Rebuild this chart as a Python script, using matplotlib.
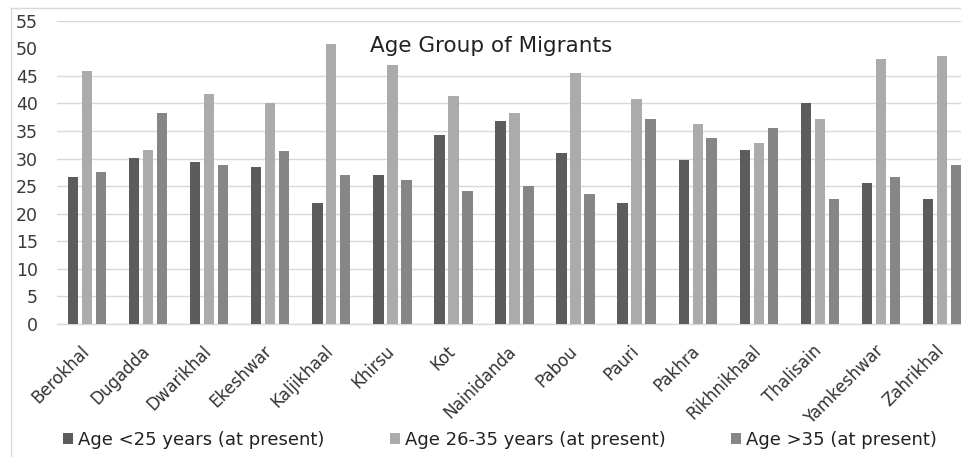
import matplotlib
matplotlib.use("Agg")
import matplotlib.pyplot as plt
import matplotlib.transforms as mtransforms
import numpy as np
from matplotlib.lines import Line2D
from matplotlib.patches import Patch

plt.rcParams['font.family'] = ['DejaVu Sans']

blocks = ["Berokhal", "Dugadda", "Dwarikhal", "Ekeshwar", "Kaljikhaal", "Khirsu",
          "Kot", "Nainidanda", "Pabou", "Pauri", "Pakhra", "Rikhnikhaal",
          "Thalisain", "Yamkeshwar", "Zahrikhal"]
age_under_25 = [26.7, 30.1, 29.4, 28.5, 22.0, 27.0, 34.3, 36.8, 31.0, 22.0, 29.7, 31.5, 40.1, 25.5, 22.6]
age_26_35 = [45.8, 31.6, 41.7, 40.1, 50.8, 47.0, 41.4, 38.3, 45.5, 40.8, 36.2, 32.8, 37.1, 48.0, 48.6]
age_over_35 = [27.6, 38.3, 28.9, 31.3, 27.0, 26.1, 24.2, 25.1, 23.6, 37.1, 33.7, 35.5, 22.6, 26.7, 28.9]
series_names = ["Age <25 years (at present)", "Age 26-35 years (at present)", "Age >35 (at present)"]
yticks = list(range(0, 60, 5))

colors = ["#5c5c5c", "#ababab", "#868686"]

W, H = 962, 457
fig = plt.figure(figsize=(W / 100, H / 100), dpi=100)
ax = fig.add_axes([56.5 / W, 133 / H, 916 / W, 303.3 / H])

x = np.arange(len(blocks))
bw = 0.17
offset = 0.229
for i, (vals, c) in enumerate(zip([age_under_25, age_26_35, age_over_35], colors)):
    ax.bar(x + (i - 1) * offset, vals, width=bw, color=c, zorder=3, label=series_names[i])

ax.set_xlim(-0.5, len(blocks) - 0.5)
ax.set_ylim(0, 55)
ax.set_yticks(yticks)
ax.set_yticklabels([str(t) for t in yticks], fontsize=12.5, color="#3a3a3a")
ax.tick_params(axis="y", length=0, pad=13.3)
ax.set_xticks(x)
ax.set_xticklabels(blocks, rotation=45, ha="right", va="top", rotation_mode="anchor",
                   fontsize=12, color="#333333")
ax.tick_params(axis="x", length=0, pad=13)
shift = mtransforms.ScaledTranslation(-7 / 100, 0, fig.dpi_scale_trans)
for lbl in ax.get_xticklabels():
    lbl.set_transform(lbl.get_transform() + shift)

ax.yaxis.grid(True, color="#d9d9d9", linewidth=1.0, zorder=0)
ax.set_axisbelow(True)
for s in ["top", "right", "left"]:
    ax.spines[s].set_visible(False)
ax.spines["bottom"].set_color("#d9d9d9")
ax.spines["bottom"].set_linewidth(1.0)
# the title band hides the 50 gridline
gl = ax.yaxis.get_gridlines()
gl[yticks.index(50)].set_visible(False)

title_tf = mtransforms.blended_transform_factory(fig.transFigure, ax.transData)
ax.text(491 / W, 50.5, "Age Group of Migrants", transform=title_tf, fontsize=15.5,
        ha="center", va="center", color="#222222")

# outer chart border
fig.add_artist(Line2D([11 / W, 1.0], [1 - 8 / H, 1 - 8 / H], transform=fig.transFigure,
                      color="#d9d9d9", linewidth=1.0))
fig.add_artist(Line2D([11 / W, 11 / W], [0, 1 - 8 / H], transform=fig.transFigure,
                      color="#d9d9d9", linewidth=1.0))

handles = [Patch(facecolor=c, edgecolor="none") for c in colors]
fig.legend(handles, series_names, loc="center", bbox_to_anchor=(500 / W, 1 - 440 / H),
           ncol=3, frameon=False, fontsize=13, handlelength=0.55, handleheight=0.55,
           handletextpad=0.3, columnspacing=3.6, labelcolor="#222222")

fig.savefig("out.png", dpi=100)
